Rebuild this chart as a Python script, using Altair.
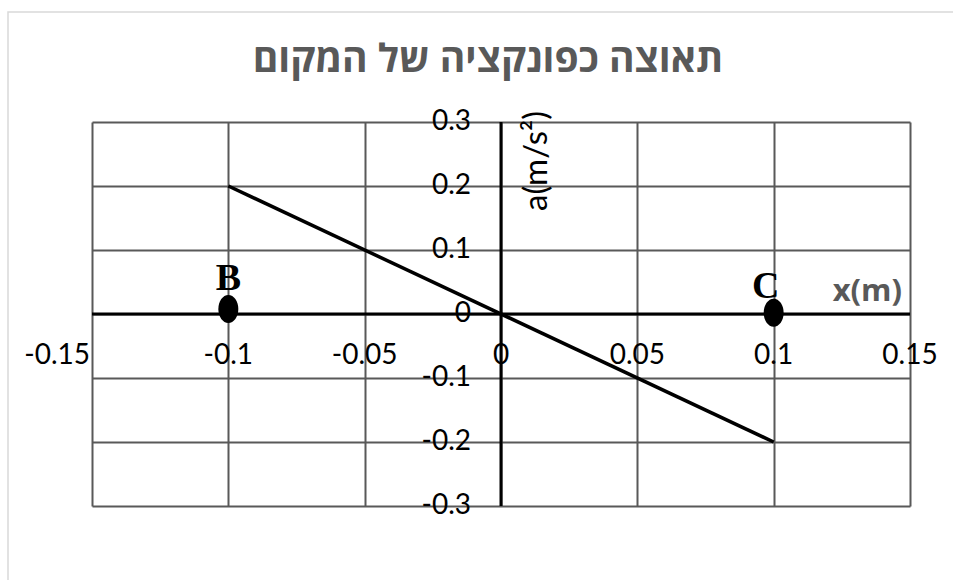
import altair as alt
import pandas as pd

# Axis ticks and their printed labels
x_ticks = [-0.15, -0.1, -0.05, 0, 0.05, 0.1, 0.15]
x_tick_labels = ["-0.15", "-0.1", "-0.05", "0", "0.05", "0.1", "0.15"]
y_ticks = [0.3, 0.2, 0.1, 0, -0.1, -0.2, -0.3]
y_tick_labels = ["0.3", "0.2", "0.1", "0", "-0.1", "-0.2", "-0.3"]

# Acceleration as a function of position
line_x = [-0.1, 0.1]
line_a = [0.2, -0.2]

# Turning points B and C
point_names = ["B", "C"]
point_x = [-0.1, 0.1]
point_a = [0.008, 0.002]

title_text = "תאוצה כפונקציה של המקום"
x_title = "x(m)"
y_title = "a(m/s²)"

GRID = "#595959"
LABEL_FONT = "Lato"
LABEL_SIZE = 28

xs = alt.Scale(domain=[-0.15, 0.15], nice=False, zero=False)
ys = alt.Scale(domain=[-0.3, 0.3], nice=False, zero=False)

line_df = pd.DataFrame({"x": line_x, "a": line_a})
pts_df = pd.DataFrame({"name": point_names, "x": point_x, "a": point_a})
xt_df = pd.DataFrame({"v": x_ticks, "label": x_tick_labels, "zero": 0})
yt_df = pd.DataFrame({"v": y_ticks, "label": y_tick_labels, "zero": 0})
one = pd.DataFrame({"k": [0]})

# light outer frame around the whole chart
frame = alt.Chart(one).mark_rect(
    fillOpacity=0, stroke="#d9d9d9", strokeWidth=1.5
).encode(
    x=alt.value(-84), x2=alt.value(1000), y=alt.value(-110), y2=alt.value(700)
)

# gridlines come from the axes of the line layer
line = alt.Chart(line_df).mark_line(color="black", strokeWidth=3.5).encode(
    x=alt.X("x:Q", scale=xs, axis=alt.Axis(
        values=x_ticks, grid=True, gridColor=GRID, gridWidth=2, gridOpacity=1,
        labels=False, ticks=False, domain=False, title=None)),
    y=alt.Y("a:Q", scale=ys, axis=alt.Axis(
        values=y_ticks, grid=True, gridColor=GRID, gridWidth=2, gridOpacity=1,
        labels=False, ticks=False, domain=False, title=None)),
)

# axes crossing at the origin
vaxis = alt.Chart(one).mark_rule(color="black", strokeWidth=3).encode(
    x=alt.datum(0, scale=xs), y=alt.datum(-0.3), y2=alt.datum(0.3))
haxis = alt.Chart(one).mark_rule(color="black", strokeWidth=3).encode(
    y=alt.datum(0, scale=ys), x=alt.datum(-0.15), x2=alt.datum(0.15))

# x tick labels; the leftmost one sits just inside the left edge
xlab = alt.Chart(xt_df).transform_filter(alt.datum.v > -0.15).mark_text(
    font=LABEL_FONT, fontSize=LABEL_SIZE, color="black", align="center",
    baseline="middle", dy=42
).encode(x=alt.X("v:Q", scale=xs), y=alt.Y("zero:Q", scale=ys), text="label:N")

xlab_first = alt.Chart(xt_df).transform_filter(alt.datum.v <= -0.15).mark_text(
    font=LABEL_FONT, fontSize=LABEL_SIZE, color="black", align="right",
    baseline="middle", dx=-2, dy=42
).encode(x=alt.X("v:Q", scale=xs), y=alt.Y("zero:Q", scale=ys), text="label:N")

ylab = alt.Chart(yt_df).mark_text(
    font=LABEL_FONT, fontSize=LABEL_SIZE, color="black", align="right",
    baseline="middle", dx=-30
).encode(x=alt.X("zero:Q", scale=xs), y=alt.Y("v:Q", scale=ys), text="label:N")

ellipse = "M -0.714,0 A 0.714,1 0 1,0 0.714,0 A 0.714,1 0 1,0 -0.714,0 Z"
points = alt.Chart(pts_df).mark_point(
    shape=ellipse, size=784, filled=True, color="black", opacity=1
).encode(x=alt.X("x:Q", scale=xs), y=alt.Y("a:Q", scale=ys))

lab_b = alt.Chart(pts_df).transform_filter(alt.datum.name == "B").mark_text(
    font="Liberation Serif", fontWeight="bold", fontSize=38, color="black",
    baseline="middle", dy=-30
).encode(x=alt.X("x:Q", scale=xs), y=alt.Y("a:Q", scale=ys), text="name:N")

lab_c = alt.Chart(pts_df).transform_filter(alt.datum.name == "C").mark_text(
    font="Liberation Serif", fontWeight="bold", fontSize=38, color="black",
    baseline="middle", dx=-8, dy=-26
).encode(x=alt.X("x:Q", scale=xs), y=alt.Y("a:Q", scale=ys), text="name:N")

xt = alt.Chart(one).mark_text(
    font="Open Sans", fontWeight="bold", fontSize=31, color=GRID,
    align="right", baseline="middle", dx=-8, dy=-22
).encode(x=alt.datum(0.15, scale=xs), y=alt.datum(0, scale=ys), text=alt.value(x_title))

yt = alt.Chart(one).mark_text(
    font=LABEL_FONT, fontSize=33, color="black", angle=270,
    align="center", baseline="middle", dx=-39, dy=36
).encode(x=alt.datum(0, scale=xs), y=alt.datum(0.3, scale=ys), text=alt.value(y_title))

title = alt.Chart(one).mark_text(
    font="Open Sans", fontWeight="bold", fontSize=39, color=GRID,
    align="center", baseline="alphabetic"
).encode(x=alt.value(396), y=alt.value(-50), text=alt.value(title_text))

chart = alt.layer(
    frame, line, vaxis, haxis, xlab, xlab_first, ylab, points, lab_b, lab_c,
    xt, yt, title
).properties(
    width=818, height=384,
    autosize=alt.AutoSizeParams(type="none"),
    padding={"left": 92, "top": 122, "right": 43, "bottom": 74},
    background="white",
).configure_view(strokeWidth=0)

chart.save("out.html", embed_options={"renderer": "svg", "actions": False})
